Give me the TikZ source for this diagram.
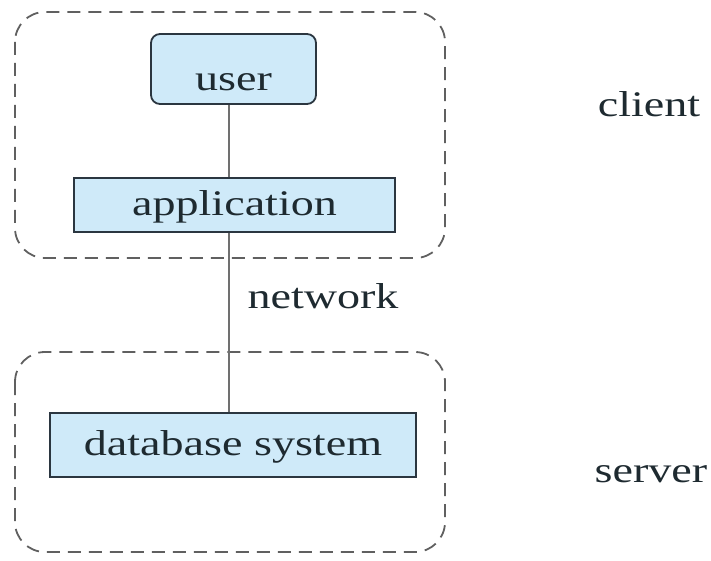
\documentclass[tikz,border=0pt]{standalone}
\usepackage{fontspec}
\setmainfont[FakeStretch=1.28]{Liberation Serif}
\begin{document}
\begin{tikzpicture}[x=1pt,y=-1pt,
  box/.style={draw=boxline, fill=boxfill, line width=1.8pt, inner sep=0pt, anchor=base, font=\fontsize{36}{40}\selectfont, text=txt},
  group/.style={draw=dashcol, line width=1.8pt, dash pattern=on 13pt off 8pt, rounded corners=30pt},
  conn/.style={draw=conncol, line width=2pt},
  lbl/.style={font=\fontsize{36}{40}\selectfont, text=txt, inner sep=0pt, anchor=base}]
\definecolor{boxfill}{HTML}{CFEAF9}
\definecolor{boxline}{HTML}{2B3640}
\definecolor{dashcol}{HTML}{606060}
\definecolor{conncol}{HTML}{707070}
\definecolor{txt}{HTML}{1E2A30}
\useasboundingbox (0,0) rectangle (711,561);
\draw[group] (15,12) rectangle (445,258);
\draw[group] (15,352) rectangle (445,552);
\node[box, rounded corners=9pt, minimum width=165pt, text height=57pt, text depth=13pt] (user) at (233.5,91) {user};
\node[box, minimum width=321pt, text height=37pt, text depth=17pt] (app) at (234.5,215) {application};
\node[box, minimum width=366pt, text height=42pt, text depth=22pt] (db) at (233,455) {database system};
\draw[conn] (user.south -| 229,0) -- (app.north -| 229,0);
\draw[conn] (app.south -| 229,0) -- (db.north -| 229,0);
\node[lbl] (client) at (649,117) {client};
\node[lbl] (network) at (323,308) {network};
\node[lbl] (server) at (651,482) {server};
\end{tikzpicture}
\end{document}
